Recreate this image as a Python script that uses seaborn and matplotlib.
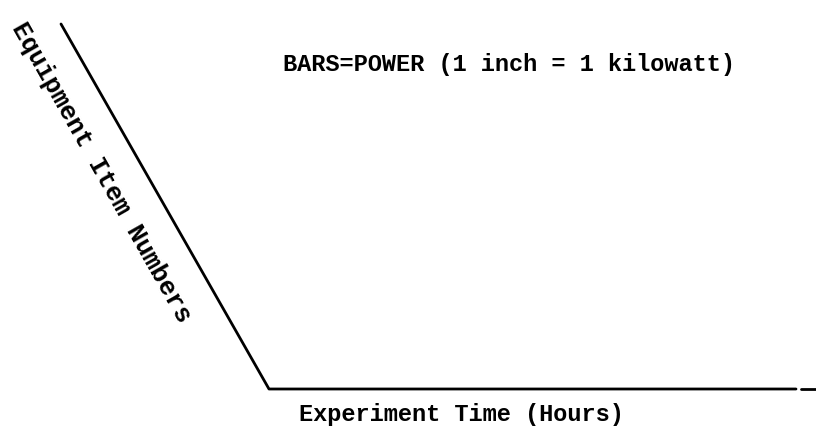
import matplotlib
matplotlib.use("Agg")
import matplotlib.pyplot as plt
import seaborn as sns
import pandas as pd

sns.set_theme(style="white")
plt.rcParams["font.family"] = ["Liberation Mono", "DejaVu Sans Mono"]

# Schematic axes: slanted equipment axis meeting the horizontal time axis
axis_x = [61, 269, 796]
axis_y = [24, 389, 389]
tail_x = [801, 816]
tail_y = [389, 389]

title_text = "BARS=POWER (1 inch = 1 kilowatt)"
x_label = "Experiment Time (Hours)"
y_label = "Equipment Item Numbers"

fig = plt.figure(figsize=(8.16, 4.30), dpi=100)
ax = fig.add_axes([0, 0, 1, 1])

axis_df = pd.DataFrame({"x": axis_x, "y": axis_y})
tail_df = pd.DataFrame({"x": tail_x, "y": tail_y})
sns.lineplot(data=axis_df, x="x", y="y", sort=False, color="black", lw=2.0, ax=ax)
sns.lineplot(data=tail_df, x="x", y="y", sort=False, color="black", lw=2.0, ax=ax)

ax.set_xlim(0, 816)
ax.set_ylim(430, 0)
ax.axis("off")

ax.text(509, 64, title_text, ha="center", va="center", fontsize=17,
        fontweight="bold", color="black")
ax.text(461, 415, x_label, ha="center", va="center", fontsize=17,
        fontweight="bold", color="black")
ax.text(101, 172, y_label, ha="center", va="center", fontsize=18.5,
        fontweight="bold", color="black", rotation=-60.5, rotation_mode="anchor")

fig.savefig("out.png", dpi=100, facecolor="white")
